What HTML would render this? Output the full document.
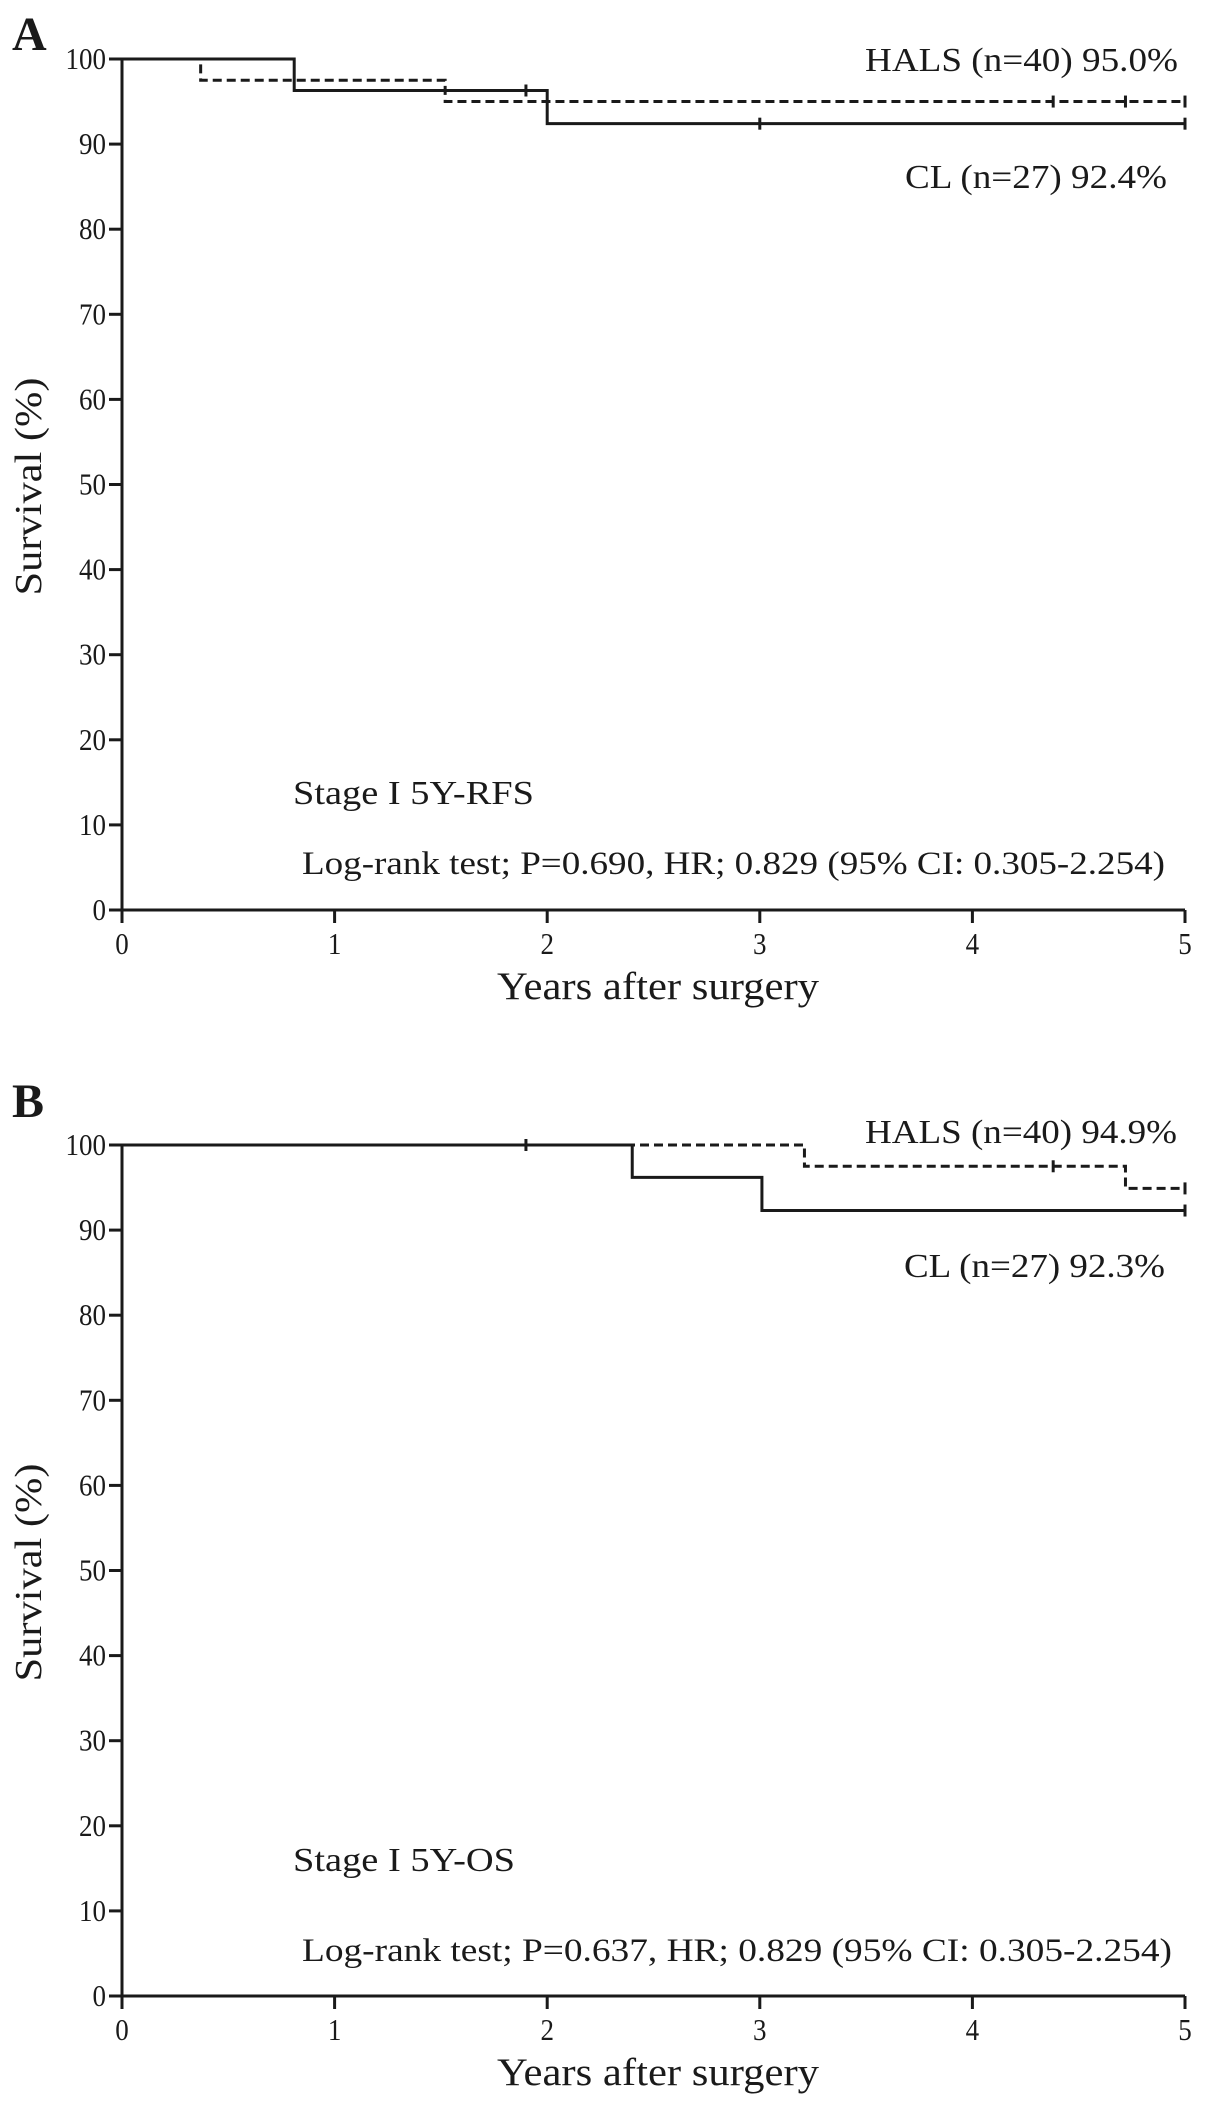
<!DOCTYPE html>
<html><head><meta charset="utf-8"><style>
html,body{margin:0;padding:0;background:#fff}
svg{display:block}
text{font-family:"Liberation Serif",serif;fill:#1a1a1a}
</style></head><body>
<svg id="fig" width="1205" height="2105" viewBox="0 0 1205 2105"></svg>
<script>
// Panel A data (RFS)
const yearsTicks = [0,1,2,3,4,5];
const survTicks = [0,10,20,30,40,50,60,70,80,90,100];
const aHalsTimes = [0,0.37,1.52,5];
const aHalsVals = [100,97.5,95.0,95.0];
const aHalsCensor = [4.38,4.72,5];
const aClTimes = [0,0.81,2.0,5];
const aClVals = [100,96.3,92.4,92.4];
const aClCensor = [1.9,3.0,5];
// Panel B data (OS)
const bHalsTimes = [0,3.21,4.72,5];
const bHalsVals = [100,97.5,94.9,94.9];
const bHalsCensor = [4.38,5];
const bClTimes = [0,2.40,3.01,5];
const bClVals = [100,96.2,92.3,92.3];
const bClCensor = [1.9,5];

const NS='http://www.w3.org/2000/svg';
const svg=document.getElementById('fig');
function mk(tag,attrs,parent){const e=document.createElementNS(NS,tag);for(const k in attrs)e.setAttribute(k,attrs[k]);(parent||svg).appendChild(e);return e;}

function panel(cfg){
  const g=mk('g',{});
  
  
  const x0=122,x1=1185,yTop=cfg.yTop,yBot=cfg.yBot;
  const sx=v=>x0+(v/5)*(x1-x0);
  const sy=v=>yBot-(v/100)*(yBot-yTop);
  const L=mk('text',{x:12,y:cfg.labY,'font-size':48,'font-weight':'bold'},g);L.textContent=cfg.letter;
  
  
  const ax=mk('path',{d:`M${x0},${yTop} V${yBot} H${x1}`,stroke:'#1a1a1a','stroke-width':3,fill:'none'},g);
  
  
  survTicks.forEach(t=>{
    mk('line',{x1:x0-13,x2:x0,y1:sy(t),y2:sy(t),stroke:'#1a1a1a','stroke-width':3},g);
    const s=String(t);
    const tx=mk('text',{x:x0-16,y:sy(t)+10,'font-size':31,'text-anchor':'end',textLength:s.length*13.5,lengthAdjust:'spacingAndGlyphs'},g);
    tx.textContent=s;
    
    
  });
  yearsTicks.forEach(t=>{
    mk('line',{x1:sx(t),x2:sx(t),y1:yBot,y2:yBot+13,stroke:'#1a1a1a','stroke-width':3},g);
    const tx=mk('text',{x:sx(t),y:yBot+44,'font-size':31,'text-anchor':'middle',textLength:13.5,lengthAdjust:'spacingAndGlyphs'},g);
    tx.textContent=t;
    
    
  });
  const xt=mk('text',{x:497,y:yBot+89,'font-size':39,textLength:322,lengthAdjust:'spacingAndGlyphs'},g);
  xt.textContent='Years after surgery';
  
  
  const cy=(yTop+yBot)/2+2;
  const yt=mk('text',{x:0,y:0,'font-size':38,'text-anchor':'middle',textLength:218,lengthAdjust:'spacingAndGlyphs',transform:`translate(41,${cy}) rotate(-90)`},g);
  yt.textContent='Survival (%)';
  
  
  function curve(times,vals,cens,dash,nm){
    let d=`M${sx(times[0])},${sy(vals[0])}`;
    for(let i=1;i<times.length;i++){d+=` H${sx(times[i])} V${sy(vals[i])}`;}
    const p=mk('path',{d:d,stroke:'#1a1a1a','stroke-width':3,fill:'none'},g);
    if(dash)p.setAttribute('stroke-dasharray','9 5');
    
    
    cens.forEach(c=>{
      let v=vals[0];for(let i=0;i<times.length;i++){if(times[i]<=c)v=vals[i];}
      const m=mk('line',{x1:sx(c),x2:sx(c),y1:sy(v)-6,y2:sy(v)+6,stroke:'#1a1a1a','stroke-width':3},g);
      
      
    });
  }
  curve(cfg.clT,cfg.clV,cfg.clC,false,'cl-curve');
  curve(cfg.hT,cfg.hV,cfg.hC,true,'hals-curve');
  cfg.texts.forEach(t=>{
    const e=mk('text',{x:t.x,y:t.y,'font-size':t.fs||34,textLength:t.w,lengthAdjust:'spacingAndGlyphs'},g);
    e.textContent=t.s;
    
    
  });
}
panel({name:'panel-a-rfs',letter:'A',labY:50,yTop:59,yBot:910,
  hT:aHalsTimes,hV:aHalsVals,hC:aHalsCensor,clT:aClTimes,clV:aClVals,clC:aClCensor,
  texts:[
    {s:'HALS (n=40) 95.0%',x:865,y:71,w:313,n:'hals-legend'},
    {s:'CL (n=27) 92.4%',x:905,y:188,w:262,n:'cl-legend'},
    {s:'Stage I  5Y-RFS',x:293,y:804,w:241,n:'stage-label'},
    {s:'Log-rank test; P=0.690, HR; 0.829 (95% CI: 0.305-2.254)',x:302,y:874,w:863,fs:33,n:'logrank-text'}
  ]});
panel({name:'panel-b-os',letter:'B',labY:1117,yTop:1145,yBot:1996,
  hT:bHalsTimes,hV:bHalsVals,hC:bHalsCensor,clT:bClTimes,clV:bClVals,clC:bClCensor,
  texts:[
    {s:'HALS (n=40) 94.9%',x:865,y:1143,w:312,n:'hals-legend'},
    {s:'CL (n=27) 92.3%',x:904,y:1277,w:261,n:'cl-legend'},
    {s:'Stage I  5Y-OS',x:293,y:1871,w:222,n:'stage-label'},
    {s:'Log-rank test; P=0.637, HR; 0.829 (95% CI: 0.305-2.254)',x:302,y:1961,w:870,fs:33,n:'logrank-text'}
  ]});
</script>
</body></html>
